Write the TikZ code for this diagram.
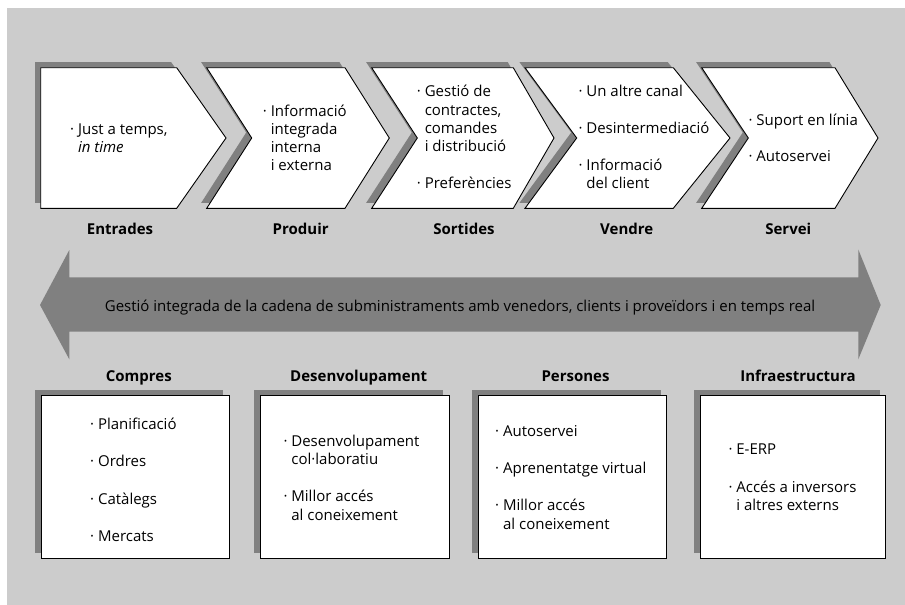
\documentclass[tikz,border=0pt]{standalone}
\usepackage{fontspec}
\setmainfont{Open Sans}
\definecolor{bg}{HTML}{CCCCCC}
\definecolor{shd}{HTML}{808080}
\newcommand\ind{\phantom{·\ }}
\tikzset{
  panel/.style={fill=white,draw=black,line width=0.9pt,line join=miter},
  shadowfill/.style={fill=shd,draw=none},
  txt/.style={anchor=base west,inner sep=0pt,font=\fontsize{15}{18}\selectfont},
  lbl/.style={anchor=base,inner sep=0pt,font=\fontsize{15}{18}\selectfont\bfseries},
  bandtxt/.style={anchor=base,inner sep=0pt,font=\fontsize{15}{18}\selectfont},
}
\begin{document}
\begin{tikzpicture}[x=1pt,y=-1pt]
\useasboundingbox (0,0) rectangle (905,605);
\fill[white] (0,0) rectangle (905,605);
\fill[bg] (7,8) rectangle (905,605);

\def\T{67.7}\def\B{208.3}\def\M{138}
% chevron shadows
\begin{scope}[shift={(-5.5,-5.5)}]
\fill[shd] (40.7,\T)--(176.7,\T)--(226,\M)--(176.7,\B)--(40.7,\B)--cycle;
\fill[shd] (206.7,\T)--(345,\T)--(389.3,\M)--(345,\B)--(206.7,\B)--(251.7,\M)--cycle;
\fill[shd] (371.7,\T)--(513.3,\T)--(554,\M)--(513.3,\B)--(371.7,\B)--(417.3,\M)--cycle;
\fill[shd] (525,\T)--(673.3,\T)--(730,\M)--(673.3,\B)--(525,\B)--(576.7,\M)--cycle;
\fill[shd] (701.7,\T)--(835,\T)--(878,\M)--(835,\B)--(701.7,\B)--(748.3,\M)--cycle;
\end{scope}
% chevrons
\path[panel] (40.7,\T)--(176.7,\T)--(226,\M)--(176.7,\B)--(40.7,\B)--cycle;
\path[panel] (206.7,\T)--(345,\T)--(389.3,\M)--(345,\B)--(206.7,\B)--(251.7,\M)--cycle;
\path[panel] (371.7,\T)--(513.3,\T)--(554,\M)--(513.3,\B)--(371.7,\B)--(417.3,\M)--cycle;
\path[panel] (525,\T)--(673.3,\T)--(730,\M)--(673.3,\B)--(525,\B)--(576.7,\M)--cycle;
\path[panel] (701.7,\T)--(835,\T)--(878,\M)--(835,\B)--(701.7,\B)--(748.3,\M)--cycle;

% chevron texts
\node[txt] (c1a) at (70,134.5) {· Just a temps,};
\node[txt] (c1b) at (70,152.5) {\ind\textit{in time}};

\node[txt] (c2a) at (262.7,116) {· Informació};
\node[txt] (c2b) at (262.7,134.3) {\ind integrada};
\node[txt] (c2c) at (262.7,152.3) {\ind interna};
\node[txt] (c2d) at (262.7,170.7) {\ind i externa};

\node[txt] (c3a) at (416.7,96.7) {· Gestió de};
\node[txt] (c3b) at (416.7,115) {\ind contractes,};
\node[txt] (c3c) at (416.7,133.3) {\ind comandes};
\node[txt] (c3d) at (416.7,151.7) {\ind i distribució};
\node[txt] (c3e) at (416.7,188.3) {· Preferències};

\node[txt] (c4a) at (578.3,96.7) {· Un altre canal};
\node[txt] (c4b) at (578.3,133.3) {· Desintermediació};
\node[txt] (c4c) at (578.3,170) {· Informació};
\node[txt] (c4d) at (578.3,188.3) {\ind del client};

\node[txt] (c5a) at (748.3,125) {· Suport en línia};
\node[txt] (c5b) at (748.3,161.7) {· Autoservei};

% labels
\node[lbl] (l1) at (120,234.3) {Entrades};
\node[lbl] (l2) at (300.7,234.3) {Produir};
\node[lbl] (l3) at (464,234.3) {Sortides};
\node[lbl] (l4) at (626.7,234.3) {Vendre};
\node[lbl] (l5) at (788.3,234.3) {Servei};

% double arrow band
\fill[shd] (40,305)--(69.3,250)--(69.3,277.3)--(858.3,277.3)--(858.3,249.5)--(880.7,305)
  --(858.3,359.3)--(858.3,331.7)--(69.3,331.7)--(69.3,359.3)--cycle;
\node[bandtxt] (band) at (460,311.7) {Gestió integrada de la cadena de subministraments amb venedors, clients i proveïdors i en temps real};

% bottom titles
\node[lbl] (t1) at (138.8,381) {Compres};
\node[lbl] (t2) at (358.7,381) {Desenvolupament};
\node[lbl] (t3) at (575.5,381) {Persones};
\node[lbl] (t4) at (798,381) {Infraestructura};

% bottom boxes
\begin{scope}[shift={(-6,-5.5)}]
\fill[shd] (41,395.7) rectangle (229.3,558.3);
\fill[shd] (260,395.7) rectangle (449,558.3);
\fill[shd] (478.3,395.7) rectangle (666.7,558.3);
\fill[shd] (700,395.7) rectangle (885.7,558.3);
\end{scope}
\path[panel] (41,395.7) rectangle (229.3,558.3);
\path[panel] (260,395.7) rectangle (449,558.3);
\path[panel] (478.3,395.7) rectangle (666.7,558.3);
\path[panel] (700,395.7) rectangle (885.7,558.3);

\node[txt] (b1a) at (90,429.3) {· Planificació};
\node[txt] (b1b) at (90,466.7) {· Ordres};
\node[txt] (b1c) at (90,504.3) {· Catàlegs};
\node[txt] (b1d) at (90,541) {· Mercats};

\node[txt] (b2a) at (283.3,446) {· Desenvolupament};
\node[txt] (b2b) at (283.3,464) {\ind col·laboratiu};
\node[txt] (b2c) at (283.3,501.7) {· Millor accés};
\node[txt] (b2d) at (283.3,520) {\ind al coneixement};

\node[txt] (b3a) at (495,436) {· Autoservei};
\node[txt] (b3b) at (495,473.3) {· Aprenentatge virtual};
\node[txt] (b3c) at (495,510.7) {· Millor accés};
\node[txt] (b3d) at (495,529.3) {\ind al coneixement};

\node[txt] (b4a) at (728.3,454) {· E-ERP};
\node[txt] (b4b) at (728.3,492.3) {· Accés a inversors};
\node[txt] (b4c) at (728.3,510.7) {\ind i altres externs};
\end{tikzpicture}
\end{document}
